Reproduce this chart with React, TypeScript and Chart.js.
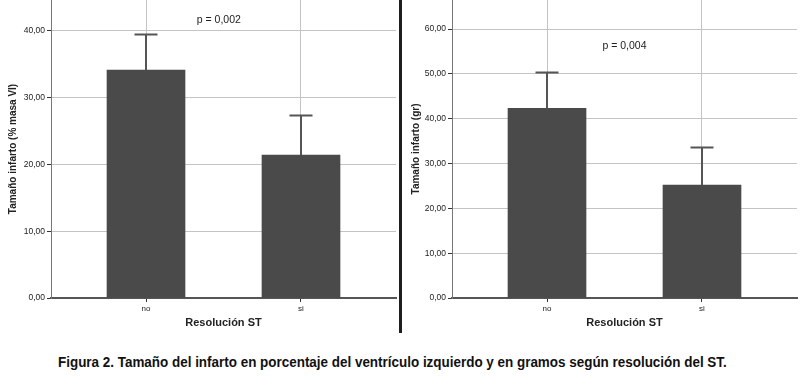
import React, { useEffect, useRef } from "react";
import { Chart, registerables } from "chart.js";

Chart.register(...registerables);

const categories = ["no", "si"];
const pctMeans = [34.1, 21.4];
const pctErrors = [5.35, 6.05];
const grMeans = [42.3, 25.2];
const grErrors = [8.15, 8.5];
const pctTicks = [0, 10, 20, 30, 40];
const grTicks = [0, 10, 20, 30, 40, 50, 60];
const pctMax = 44.6;
const grMax = 66.5;
const pTexts = ["p = 0,002", "p = 0,004"];
const yTitles = ["Tamaño infarto (% masa VI)", "Tamaño infarto (gr)"];
const xTitle = "Resolución ST";
const caption =
  "Figura 2. Tamaño del infarto en porcentaje del ventrículo izquierdo y en gramos según resolución del ST.";

const FONT = "'Liberation Sans', Arial, sans-serif";
const CAPTION_WIDTH = 669;

const errorBarPlugin = {
  id: "errorBars",
  afterDatasetsDraw(chart: any, _args: any, opts: any) {
    const { ctx } = chart;
    const meta = chart.getDatasetMeta(0);
    const ys = chart.scales.y;
    const errs: number[] = opts.errors || [];
    ctx.save();
    ctx.strokeStyle = opts.color;
    ctx.lineWidth = opts.width;
    meta.data.forEach((bar: any, i: number) => {
      const v = chart.data.datasets[0].data[i].y;
      const top = Math.round(ys.getPixelForValue(v + errs[i])) + 0.5;
      const base = ys.getPixelForValue(v);
      const x = Math.round(bar.x);
      ctx.beginPath();
      ctx.moveTo(x, base);
      ctx.lineTo(x, top);
      ctx.stroke();
      ctx.beginPath();
      ctx.moveTo(x - opts.cap / 2, top);
      ctx.lineTo(x + opts.cap / 2, top);
      ctx.stroke();
    });
    ctx.restore();
  },
};

const pTextPlugin = {
  id: "pText",
  afterDraw(chart: any, _args: any, opts: any) {
    const { ctx } = chart;
    const x = chart.scales.x.getPixelForValue(opts.x);
    const y = chart.scales.y.getPixelForValue(opts.y);
    ctx.save();
    ctx.font = `${opts.size}px ${FONT}`;
    ctx.fillStyle = "#222";
    ctx.textAlign = "center";
    ctx.textBaseline = "middle";
    ctx.fillText(opts.text, x, y);
    ctx.restore();
  },
};

function makeConfig(
  means: number[],
  errs: number[],
  ticks: number[],
  max: number,
  yTitle: string,
  pText: string,
  pX: number,
  pY: number,
  yWidth: number,
  padRight: number
): any {
  return {
    type: "bar",
    data: {
      datasets: [
        {
          data: categories.map((_, i) => ({ x: i, y: means[i] })),
          backgroundColor: "#4a4a4a",
          borderWidth: 0,
          barThickness: 78,
        },
      ],
    },
    plugins: [errorBarPlugin, pTextPlugin],
    options: {
      responsive: false,
      animation: false,
      layout: { padding: { left: 0, top: 0, bottom: 0, right: padRight } },
      plugins: {
        legend: { display: false },
        tooltip: { enabled: false },
        errorBars: { errors: errs, color: "#555", width: 2, cap: 23 },
        pText: { text: pText, x: pX, y: pY, size: 10.5 },
      },
      scales: {
        x: {
          type: "linear",
          min: -0.613,
          max: 1.613,
          offset: false,
          grid: {
            offset: false,
            color: "#c4c4c4",
            lineWidth: 1,
            tickLength: 4,
            tickColor: "#333",
          },
          border: { color: "#555", width: 2 },
          afterBuildTicks: (s: any) => {
            s.ticks = categories.map((_, i) => ({ value: i }));
          },
          ticks: {
            callback: (v: number) => categories[v] ?? "",
            font: { family: FONT, size: 8 },
            color: "#222",
            padding: 2,
            maxRotation: 0,
            autoSkip: false,
          },
          title: {
            display: true,
            text: xTitle,
            font: { family: FONT, size: 11, weight: "bold" },
            color: "#222",
            padding: { top: 0, bottom: 5 },
          },
          afterFit: (s: any) => {
            s.height = 37;
            s.paddingLeft = 0;
            s.paddingRight = 0;
          },
        },
        y: {
          min: 0,
          max: max,
          afterBuildTicks: (s: any) => {
            s.ticks = ticks.map((v) => ({ value: v }));
          },
          ticks: {
            callback: (v: number) => v.toFixed(2).replace(".", ","),
            font: { family: FONT, size: 8.5 },
            color: "#222",
            padding: 2,
          },
          grid: { color: "#c4c4c4", lineWidth: 1, tickLength: 4, tickColor: "#333" },
          border: { color: "#777", width: 1 },
          title: {
            display: true,
            text: yTitle,
            font: { family: FONT, size: 10, weight: "bold" },
            color: "#222",
            padding: { top: 7, bottom: 0 },
          },
          afterFit: (s: any) => {
            s.width = yWidth;
            s.paddingTop = 0;
            s.paddingBottom = 0;
          },
        },
      },
    },
  };
}

export default function App() {
  const leftRef = useRef<HTMLCanvasElement>(null);
  const rightRef = useRef<HTMLCanvasElement>(null);
  const capRef = useRef<HTMLDivElement>(null);

  useEffect(() => {
    const c1 = new Chart(
      leftRef.current as HTMLCanvasElement,
      makeConfig(pctMeans, pctErrors, pctTicks, pctMax, yTitles[0], pTexts[0], 0.47, 41.65, 51, 2)
    );
    const c2 = new Chart(
      rightRef.current as HTMLCanvasElement,
      makeConfig(grMeans, grErrors, grTicks, grMax, yTitles[1], pTexts[1], 0.5, 56.3, 49, 3)
    );
    const cap = capRef.current;
    if (cap) {
      const w = cap.scrollWidth;
      if (w > 0) cap.style.transform = `scaleX(${CAPTION_WIDTH / w})`;
    }
    return () => {
      c1.destroy();
      c2.destroy();
    };
  }, []);

  return (
    <div
      style={{
        position: "absolute",
        left: 0,
        top: 0,
        width: 800,
        height: 389,
        background: "#fff",
        overflow: "hidden",
      }}
    >
      <canvas
        ref={leftRef}
        width={398}
        height={335}
        style={{ position: "absolute", left: 0, top: 0, display: "block" }}
      />
      <div
        style={{
          position: "absolute",
          left: 399,
          top: 0,
          width: 3,
          height: 333,
          background: "#1e1e1e",
        }}
      />
      <canvas
        ref={rightRef}
        width={397}
        height={335}
        style={{ position: "absolute", left: 403, top: 0, display: "block" }}
      />
      <div
        ref={capRef}
        style={{
          position: "absolute",
          left: 58,
          top: 354,
          whiteSpace: "nowrap",
          fontFamily: FONT,
          fontWeight: "bold",
          fontSize: 14,
          color: "#111",
          lineHeight: "16px",
          transformOrigin: "0 0",
          display: "inline-block",
        }}
      >
        {caption}
      </div>
    </div>
  );
}
